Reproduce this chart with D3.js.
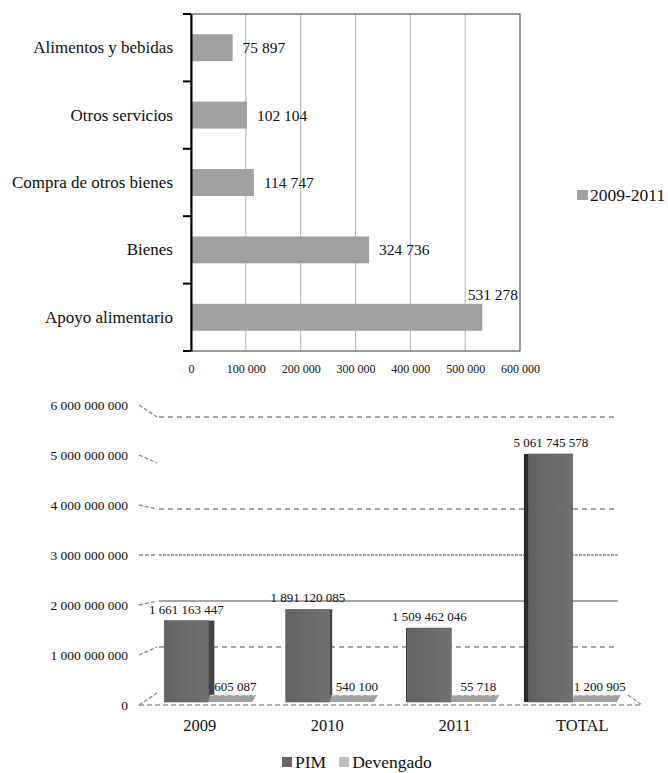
<!DOCTYPE html>
<html>
<head>
<meta charset="utf-8">
<script src="https://cdn.jsdelivr.net/npm/d3@7/dist/d3.min.js"></script>
<style>
  html, body { margin: 0; padding: 0; background: #fff; }
  svg { display: block; }
  svg text { font-family: "Liberation Serif", "Times New Roman", serif; fill: #111; }
</style>
</head>
<body>
<svg id="chart" width="668" height="773"></svg>
<script>
// ---- Gasto por rubro, 2009-2011 (barras horizontales) ----
const rubros = ["Alimentos y bebidas", "Otros servicios", "Compra de otros bienes", "Bienes", "Apoyo alimentario"];
const gastoRubro = [75897, 102104, 114747, 324736, 531278];
const rubroTicks = [0, 100000, 200000, 300000, 400000, 500000, 600000];
const rubroSerie = "2009-2011";

// ---- PIM y devengado por año ----
const anios = ["2009", "2010", "2011", "TOTAL"];
const pim = [1661163447, 1891120085, 1509462046, 5061745578];
const devengado = [605087, 540100, 55718, 1200905];
const montoTicks = [0, 1000000000, 2000000000, 3000000000, 4000000000, 5000000000, 6000000000];
const series = ["PIM", "Devengado"];

const fmt = v => d3.format(",")(v).replace(/,/g, " ");
const svg = d3.select("#chart");

/* ================= Horizontal bar chart ================= */
const box = { left: 191, right: 520, top: 14, bottom: 351 };
const x = d3.scaleLinear().domain([0, 600000]).range([box.left, box.right]);
const y = d3.scaleBand().domain(rubros).range([box.top, box.bottom]).paddingInner(0.6).paddingOuter(0.3);

const g1 = svg.append("g");

// vertical gridlines
g1.selectAll("line.grid").data(rubroTicks.slice(1, -1)).join("line")
  .attr("x1", d => x(d)).attr("x2", d => x(d))
  .attr("y1", box.top).attr("y2", box.bottom)
  .attr("stroke", "#b4b4b4").attr("stroke-width", 1);

// plot frame
g1.append("rect")
  .attr("x", box.left).attr("y", box.top)
  .attr("width", box.right - box.left).attr("height", box.bottom - box.top)
  .attr("fill", "none").attr("stroke", "#3c3c3c").attr("stroke-width", 1);

// bars
g1.selectAll("rect.bar").data(gastoRubro).join("rect")
  .attr("x", x(0))
  .attr("y", (d, i) => y(rubros[i]))
  .attr("width", d => x(d) - x(0))
  .attr("height", y.bandwidth())
  .attr("fill", "#a0a0a0");

// value labels (placed above the bar when there is no room on its right)
g1.selectAll("text.val").data(gastoRubro).join("text")
  .each(function (d, i) {
    const t = d3.select(this);
    const end = x(d);
    if (end + 60 > box.right) {
      t.attr("x", box.right - 2).attr("y", y(rubros[i]) - 4).attr("text-anchor", "end");
    } else {
      t.attr("x", end + 10).attr("y", y(rubros[i]) + y.bandwidth() / 2).attr("dy", "0.35em");
    }
  })
  .attr("font-size", 15.5)
  .text(d => fmt(d));

// category axis (left) with boundary ticks
const ya = g1.append("g").attr("transform", `translate(${box.left},0)`)
  .call(d3.axisLeft(y).tickSize(0).tickPadding(18))
  .attr("font-family", null).attr("font-size", null);
ya.select(".domain").attr("stroke", "#000").attr("stroke-width", 2);
ya.selectAll("text").attr("font-size", 17).attr("fill", "#111");
const edges = d3.range(rubros.length + 1).map(i => box.top + i * (box.bottom - box.top) / rubros.length);
g1.selectAll("line.ytick").data(edges).join("line")
  .attr("x1", box.left - 8).attr("x2", box.left)
  .attr("y1", d => d).attr("y2", d => d)
  .attr("stroke", "#000").attr("stroke-width", 2);

// x axis labels
const xa = g1.append("g").attr("transform", `translate(0,${box.bottom})`)
  .call(d3.axisBottom(x).tickValues(rubroTicks).tickSize(0).tickPadding(13).tickFormat(fmt))
  .attr("font-family", null).attr("font-size", null);
xa.select(".domain").remove();
xa.selectAll("text").attr("font-size", 12).attr("fill", "#111");

// legend
const lg1 = g1.append("g").attr("transform", "translate(577,190)");
lg1.append("rect").attr("width", 11).attr("height", 10).attr("fill", "#a0a0a0");
lg1.append("text").attr("x", 13).attr("y", 5).attr("dy", "0.35em")
  .attr("font-size", 17.5).text(rubroSerie);

/* ================= 3D column chart ================= */
const g2 = svg.append("g");
const yFront = d3.scaleLinear().domain([0, 6e9]).range([705, 405]);
const yBack = d3.scaleLinear().domain([0, 6e9]).range([693, 417]);
const yBar = d3.scaleLinear().domain([0, 6e9]).range([702, 408]);
const xLabel = d3.scaleBand().domain(anios).range([136, 646]);
const xBar = d3.scaleBand().domain(anios).range([147.5, 633.5]);
const xSerie = d3.scaleBand().domain(series).range([-44, 44]);
const wallL = 139, backL = 157, backR = 618;

// left wall connectors and back-wall gridlines
const gridDash = { 0: null, 1000000000: "5,4", 2000000000: "solid", 3000000000: "3,1", 4000000000: "5,4", 5000000000: null, 6000000000: "5,4" };
g2.selectAll("line.conn").data(montoTicks).join("line")
  .attr("x1", wallL).attr("y1", d => yFront(d))
  .attr("x2", backL).attr("y2", d => yBack(d))
  .attr("stroke", "#8a8a8a").attr("stroke-width", 1.3)
  .attr("stroke-dasharray", "4,2");
g2.selectAll("line.back").data(montoTicks.filter(d => gridDash[d])).join("line")
  .attr("x1", backL + 2).attr("x2", backR)
  .attr("y1", d => yBack(d)).attr("y2", d => yBack(d))
  .attr("stroke", "#8a8a8a").attr("stroke-width", d => gridDash[d] === "3,1" ? 1.6 : 1.4)
  .attr("stroke-dasharray", d => gridDash[d] === "solid" ? null : gridDash[d]);

// floor front edge
g2.append("line").attr("x1", wallL).attr("x2", 642).attr("y1", yFront(0)).attr("y2", yFront(0))
  .attr("stroke", "#9a9a9a").attr("stroke-width", 1.6).attr("stroke-dasharray", "5,3");
g2.append("line").attr("x1", 628).attr("x2", 642).attr("y1", yBack(0) + 2).attr("y2", yFront(0))
  .attr("stroke", "#9a9a9a").attr("stroke-width", 1.4).attr("stroke-dasharray", "4,2");

// y tick labels
g2.selectAll("text.ytick").data(montoTicks).join("text")
  .attr("x", 128).attr("y", d => yFront(d)).attr("dy", "0.35em")
  .attr("text-anchor", "end").attr("font-size", 13.5)
  .text(d => fmt(d));

// category labels
g2.selectAll("text.cat").data(anios).join("text")
  .attr("x", d => xLabel(d) + xLabel.bandwidth() / 2).attr("y", 725).attr("dy", "0.35em")
  .attr("text-anchor", "middle").attr("font-size", 16.5)
  .text(d => d);

// gradient for bar fronts
const defs = svg.append("defs");
const grad = defs.append("linearGradient").attr("id", "pimFront").attr("x1", 0).attr("x2", 1);
grad.append("stop").attr("offset", 0).attr("stop-color", "#626262");
grad.append("stop").attr("offset", 1).attr("stop-color", "#717171");

const vanishX = 390;
const groups = g2.selectAll("g.grp").data(anios).join("g")
  .attr("transform", d => `translate(${xBar(d) + xBar.bandwidth() / 2},0)`);

// PIM columns with a perspective side face
groups.each(function (d, i) {
  const gg = d3.select(this);
  const x0 = xSerie("PIM"), w = xSerie.bandwidth();
  const yt = yBar(pim[i]), yb = yBar(0);
  const cx = xBar(d) + xBar.bandwidth() / 2 + x0 + w / 2;
  const side = (vanishX - cx) * 0.03;
  if (side > 0.8) {
    gg.append("rect").attr("x", x0 + w).attr("y", yt).attr("width", side).attr("height", yb - yt).attr("fill", "#444");
  } else if (side < -0.8) {
    gg.append("rect").attr("x", x0 + side).attr("y", yt).attr("width", -side).attr("height", yb - yt).attr("fill", "#2a2a2a");
  }
  gg.append("rect").attr("x", x0).attr("y", yt).attr("width", w).attr("height", yb - yt)
    .attr("fill", "url(#pimFront)").attr("stroke", "#5a5a5a").attr("stroke-width", 0.6);
  gg.append("text").attr("x", x0 + w / 2).attr("y", yt - 7)
    .attr("text-anchor", "middle").attr("font-size", 13)
    .text(fmt(pim[i]));
});

// Devengado columns: front face from the value plus the visible top face
groups.each(function (d, i) {
  const gg = d3.select(this);
  const x0 = xSerie("Devengado"), w = xSerie.bandwidth();
  const yt = yBar(devengado[i]), yb = yBar(0);
  gg.append("rect").attr("x", x0).attr("y", yt).attr("width", w).attr("height", Math.max(0, yb - yt)).attr("fill", "#9c9c9c");
  const depth = 7, shift = 4;
  gg.append("path")
    .attr("d", `M${x0},${yt} L${x0 + w},${yt} L${x0 + w + shift},${yt - depth} L${x0 + shift * 0.3},${yt - depth} Z`)
    .attr("fill", "#9e9e9e");
  gg.append("line").attr("x1", x0 + 2).attr("x2", x0 + w + shift - 2)
    .attr("y1", yt - depth + 0.5).attr("y2", yt - depth + 0.5)
    .attr("stroke", "#cfcfcf").attr("stroke-width", 1.5).attr("stroke-dasharray", "4,3");
  gg.append("text").attr("x", x0 + w / 2 + 5).attr("y", 691)
    .attr("text-anchor", "middle").attr("font-size", 13)
    .text(fmt(devengado[i]));
});

// legend
const legendColors = { PIM: "#666666", Devengado: "#bdbdbd" };
const lg2 = g2.append("g").attr("transform", "translate(282,757)");
let lx = 0;
series.forEach(s => {
  const item = lg2.append("g").attr("transform", `translate(${lx},0)`);
  item.append("rect").attr("width", 10).attr("height", 10).attr("fill", legendColors[s]);
  const t = item.append("text").attr("x", 13).attr("y", 5).attr("dy", "0.35em")
    .attr("font-size", 17.5).text(s);
  lx += 13 + t.node().getComputedTextLength() + 13;
});
</script>
</body>
</html>
